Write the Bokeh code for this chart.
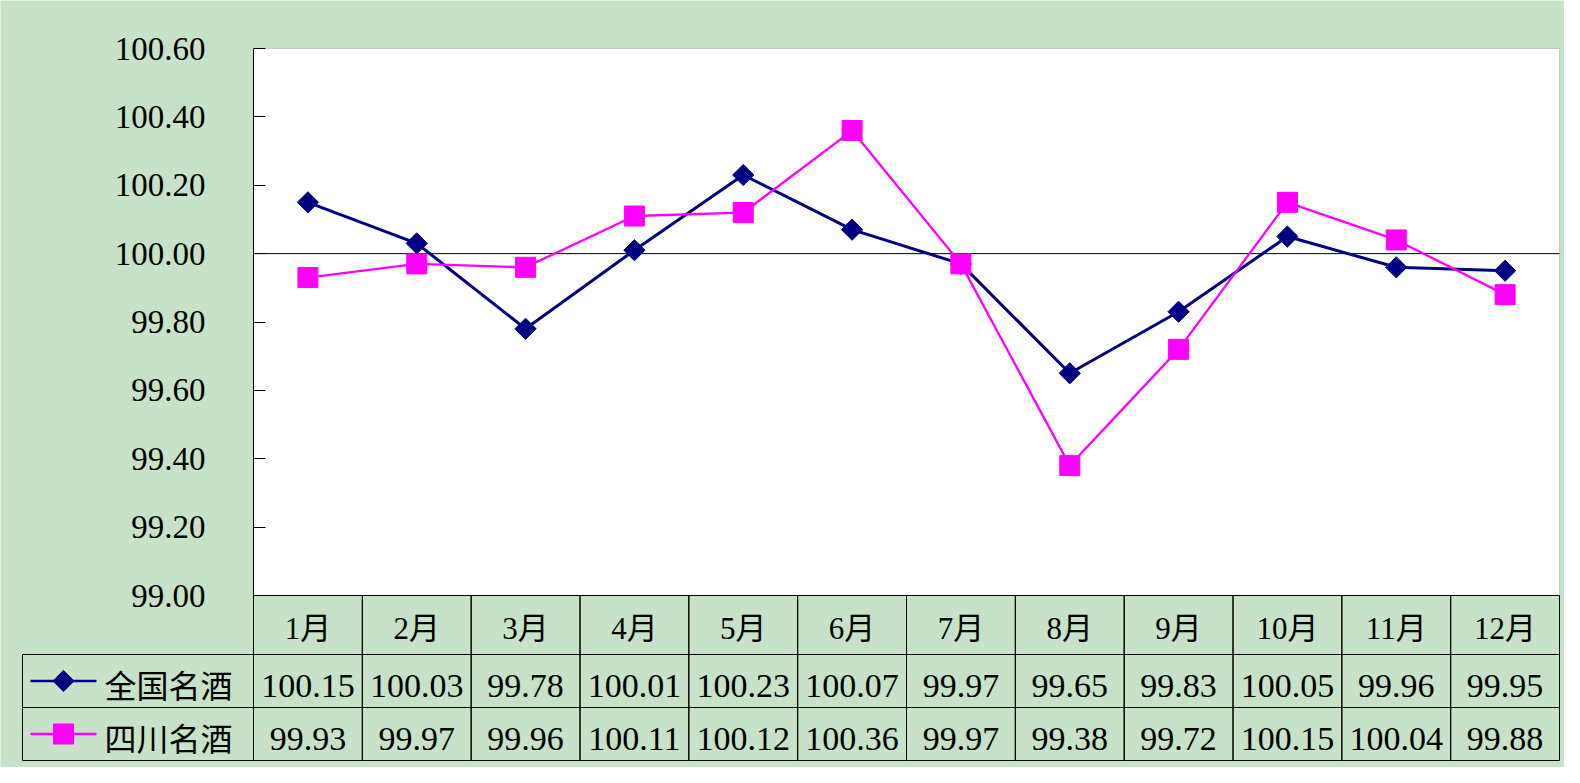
import numpy as np
from bokeh.plotting import figure
from bokeh.models import (Range1d, FixedTicker, NumeralTickFormatter, ColumnDataSource,
                          LinearAxis, BoxAnnotation)
from bokeh.core.properties import value
from bokeh.embed import file_html
from bokeh.resources import INLINE

months = ["1月", "2月", "3月", "4月", "5月", "6月", "7月", "8月", "9月", "10月", "11月", "12月"]
series_names = ["全国名酒", "四川名酒"]
national = [100.15, 100.03, 99.78, 100.01, 100.23, 100.07, 99.97, 99.65, 99.83, 100.05, 99.96, 99.95]
sichuan = [99.93, 99.97, 99.96, 100.11, 100.12, 100.36, 99.97, 99.38, 99.72, 100.15, 100.04, 99.88]
y_ticks = [99.0, 99.2, 99.4, 99.6, 99.8, 100.0, 100.2, 100.4, 100.6]
base_line = 100.0

BG = "#C7E2C9"
NAVY = "#000080"
PINK = "#FF00FF"
SERIF = "Liberation Serif, Noto Sans CJK SC"
CJK = "Noto Sans CJK SC"

n = len(months)
x = list(range(1, n + 1))

# ---- layout geometry (pixels, page coordinates; frame = whole figure) ----
W, H = 1564, 767
TL, TR, TB = 22, 1559, 760                   # table left / right / bottom edges
PL, PT, PB = 253, 48, 595                    # chart area left / top / bottom
HDR_B, ROW1_B = 654, 707                     # table row boundaries
col_w = (TR - PL) / n
y_lo, y_hi = y_ticks[0], y_ticks[-1]
k = (y_hi - y_lo) / (PB - PT)                # data units per pixel (vertical)


def px(v):
    return 0.5 + (v - PL) / col_w


def py(v):
    return y_lo - (v - PB) * k


p = figure(width=W, height=H, output_backend="svg", toolbar_location=None,
           x_range=Range1d(px(0), px(W)), y_range=Range1d(py(H), py(0)),
           x_axis_location=None, y_axis_location=None,
           min_border_left=0, min_border_right=0, min_border_top=0, min_border_bottom=0)
p.background_fill_color = BG
p.border_fill_color = BG
p.outline_line_color = None
p.xgrid.visible = False
p.ygrid.visible = False

# white plotting area
p.add_layout(BoxAnnotation(left=0.5, right=n + 0.5, bottom=y_lo, top=y_hi, fill_color="white",
                           fill_alpha=1, line_color="#808080", line_width=1, level="underlay"))

yaxis = LinearAxis(fixed_location=0.5, ticker=FixedTicker(ticks=y_ticks),
                   formatter=NumeralTickFormatter(format="0.00"), bounds=(py(TB), y_hi))
yaxis.major_tick_in = 12
yaxis.major_tick_out = 0
yaxis.minor_tick_line_color = None
yaxis.axis_line_color = "black"
yaxis.major_tick_line_color = "black"
yaxis.major_label_standoff = 48
yaxis.major_label_text_font = SERIF
yaxis.major_label_text_font_size = "33px"
yaxis.major_label_text_color = "black"
p.add_layout(yaxis, "left")

# category axis crossing at 100
p.segment(x0=[0.5], y0=[base_line], x1=[n + 0.5], y1=[base_line], line_color="black", line_width=1)

# ---- data table ----
hdr_y = (py(PB) + py(HDR_B)) / 2
rows_y = [(py(HDR_B) + py(ROW1_B)) / 2, (py(ROW1_B) + py(TB)) / 2]
hdr_h = py(PB) - py(HDR_B)
row_h = [py(HDR_B) - py(ROW1_B), py(ROW1_B) - py(TB)]

p.rect(x=x, y=[hdr_y] * n, width=1, height=hdr_h, fill_color=None, line_color="black")
cell_x = x * 2
cell_y = [rows_y[0]] * n + [rows_y[1]] * n
cell_h = [row_h[0]] * n + [row_h[1]] * n
p.rect(x=cell_x, y=cell_y, width=1, height=cell_h, fill_color=None, line_color="black")
p.rect(x=[(px(TL) + 0.5) / 2] * 2, y=rows_y, width=0.5 - px(TL), height=row_h,
       fill_color=None, line_color="black")

p.text(x=x, y=[hdr_y] * n, text=months, text_align="center", text_baseline="middle",
       y_offset=3, text_font=value(SERIF), text_font_size="31px", text_color="black")
vals = [f"{v:.2f}" for v in national] + [f"{v:.2f}" for v in sichuan]
p.text(x=cell_x, y=cell_y, text=vals, text_align="center", text_baseline="middle",
       y_offset=5, text_font=value(SERIF), text_font_size="34px", text_color="black")

# legend keys
p.segment(x0=[px(30)] * 2, y0=rows_y, x1=[px(96)] * 2, y1=rows_y,
          line_color=[NAVY, PINK], line_width=2.5)
p.scatter(x=[px(63)], y=[rows_y[0]], marker="square", angle=np.pi / 4, size=15,
          fill_color=NAVY, line_color=NAVY)
p.scatter(x=[px(63)], y=[rows_y[1]], marker="square", size=20, fill_color=PINK, line_color=PINK)
p.text(x=[px(104)] * 2, y=rows_y, text=series_names, text_align="left", text_baseline="middle",
       y_offset=3, text_font=value(CJK), text_font_size="32px", text_color="black")

# ---- series ----
src = ColumnDataSource(dict(x=x, nat=national, sc=sichuan))
p.line("x", "nat", source=src, line_color=NAVY, line_width=3)
p.line("x", "sc", source=src, line_color=PINK, line_width=2.3)
p.scatter("x", "nat", source=src, marker="square", angle=np.pi / 4, size=15,
          fill_color=NAVY, line_color=NAVY)
p.scatter("x", "sc", source=src, marker="square", size=20, fill_color=PINK, line_color=PINK)

open("out.html", "w").write(file_html(p, INLINE))
